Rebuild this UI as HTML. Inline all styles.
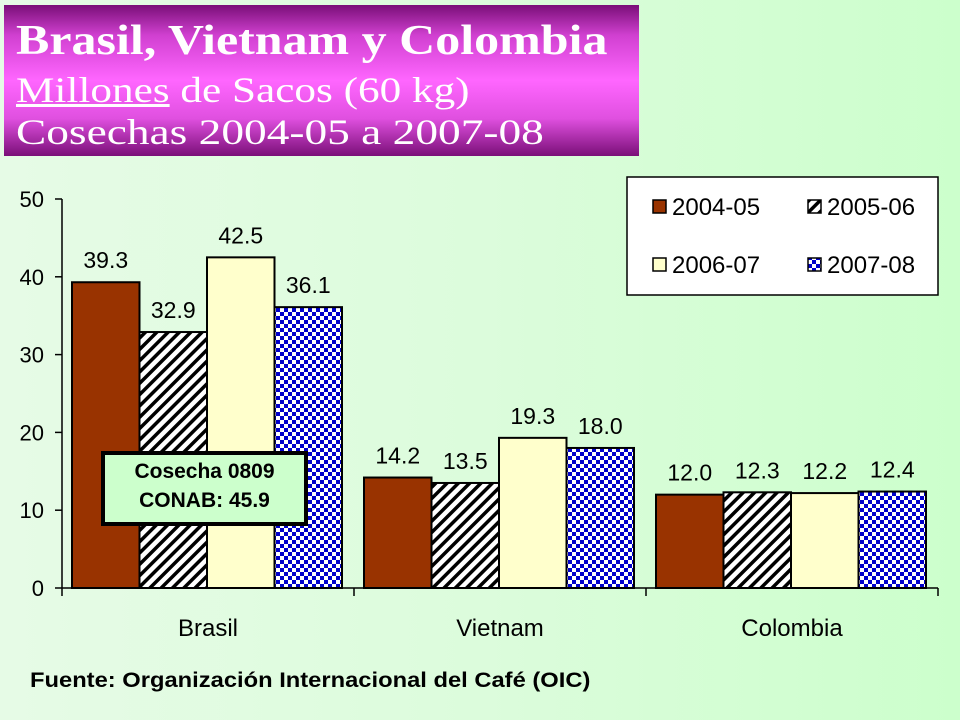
<!DOCTYPE html>
<html><head><meta charset="utf-8">
<style>
body{margin:0;width:960px;height:720px;overflow:hidden;background:linear-gradient(90deg,#e6fbe6 0%,#dcfcdc 50%,#ccffcc 100%);font-family:"Liberation Sans",sans-serif;}
#title{position:absolute;left:4px;top:5px;width:635px;height:151px;background:linear-gradient(180deg,#7a0f78 0%,#d040d0 20%,#ff66ff 50%,#e050e0 75%,#7a0f78 100%);font-family:"Liberation Serif",serif;color:#fff;}
#title div{position:absolute;left:12px;white-space:nowrap;transform-origin:left top}
</style></head><body>
<div id="title">
<div style="top:12px;font-size:42px;font-weight:bold;transform:scaleX(1.19)">Brasil, Vietnam y Colombia</div>
<div style="top:64px;font-size:36px;transform:scaleX(1.2)"><u>Millones</u> de Sacos (60 kg)</div>
<div style="top:106px;font-size:36px;transform:scaleX(1.26)">Cosechas 2004-05 a 2007-08</div>
</div>
<svg id="chart" width="960" height="720" style="position:absolute;left:0;top:0">
<defs>
<pattern id="hatch" width="8" height="8" patternUnits="userSpaceOnUse" patternTransform="rotate(45)"><rect width="8" height="8" fill="#fff"/><rect width="3.5" height="8" fill="#000"/></pattern>
<pattern id="check" width="8" height="8" patternUnits="userSpaceOnUse"><rect width="8" height="8" fill="#fff"/><rect width="4" height="4" fill="#0000cc"/><rect x="4" y="4" width="4" height="4" fill="#0000cc"/></pattern>
</defs>
<g id="g"></g>
</svg>
<div style="position:absolute;left:101px;top:451px;width:199px;height:65px;border:4px solid #000;background:#ccffcc;text-align:center;font-weight:bold;font-size:21px;line-height:29px;padding-top:2px">Cosecha 0809<br>CONAB: 45.9</div>
<div style="position:absolute;left:30px;top:669px;font-size:21px;font-weight:bold;white-space:nowrap;transform-origin:left top;transform:scaleX(1.13)">Fuente: Organización Internacional del Café (OIC)</div>
<script>
const categories=["Brasil","Vietnam","Colombia"];
const seriesNames=["2004-05","2005-06","2006-07","2007-08"];
const s0405=[39.3,14.2,12.0];
const s0506=[32.9,13.5,12.3];
const s0607=[42.5,19.3,12.2];
const s0708=[36.1,18.0,12.4];
const yTicks=[0,10,20,30,40,50];
const series=[s0405,s0506,s0607,s0708];
const fills=["#993300","url(#hatch)","#ffffcc","url(#check)"];
const NS="http://www.w3.org/2000/svg";
const g=document.getElementById("g");
const x0=62,x1=938,yB=588,yT=199,yMax=50;
const y=v=>yB-(v/yMax)*(yB-yT);
const gw=(x1-x0)/categories.length;
const bw=67.5,pad=10;
function mk(t,a){const e=document.createElementNS(NS,t);for(const k in a)e.setAttribute(k,a[k]);g.appendChild(e);return e;}
categories.forEach((c,ci)=>{
 series.forEach((s,si)=>{
  const bx=x0+ci*gw+pad+si*bw;
  const r=mk("rect",{x:bx,y:y(s[ci]),width:bw,height:yB-y(s[ci]),fill:fills[si],stroke:"#000","stroke-width":2});
  
  
  const t=mk("text",{x:bx+bw/2,y:y(s[ci])-14,"text-anchor":"middle","font-size":23,fill:"#000"});
  t.textContent=s[ci].toFixed(1);
  
  
 });
 const l=mk("text",{x:x0+ci*gw+gw/2,y:636,"text-anchor":"middle","font-size":24});
 l.textContent=c;
 
 
});
mk("line",{x1:x0,y1:yT,x2:x0,y2:yB,stroke:"#000","stroke-width":1.5});
mk("line",{x1:x0,y1:yB,x2:x1,y2:yB,stroke:"#000","stroke-width":1.5});
for(let i=0;i<=categories.length;i++){const xx=x0+i*gw;mk("line",{x1:xx,y1:yB,x2:xx,y2:yB+8,stroke:"#000","stroke-width":1.5});}
yTicks.forEach(v=>{
 mk("line",{x1:x0-7,y1:y(v),x2:x0,y2:y(v),stroke:"#000","stroke-width":1.5});
 const t=mk("text",{x:x0-18,y:y(v)+8,"text-anchor":"end","font-size":22});
 t.textContent=v;
 
 
});
const lg=mk("rect",{x:627,y:177,width:311,height:118,fill:"#fff",stroke:"#000","stroke-width":1.5});


seriesNames.forEach((n,i)=>{
 const lx=653+(i%2)*155, ly=200+Math.floor(i/2)*58;
 const r=mk("rect",{x:lx,y:ly,width:13,height:13,fill:fills[i],stroke:"#000","stroke-width":1.5});
 
 
 const t=mk("text",{x:lx+19,y:ly+15,"font-size":24});
 t.textContent=n;
 
 
});
</script>
</body></html>
